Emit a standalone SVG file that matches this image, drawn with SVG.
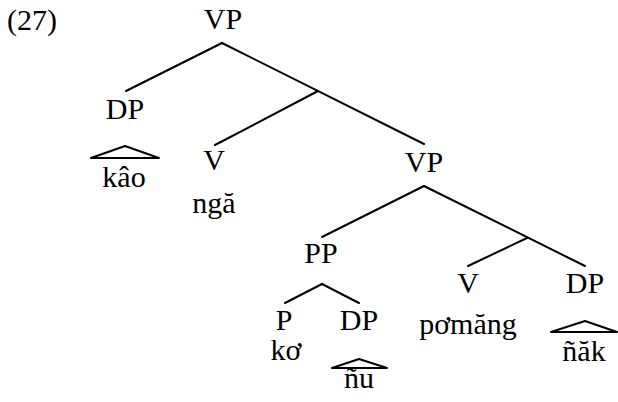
<svg xmlns="http://www.w3.org/2000/svg" width="618" height="402" viewBox="0 0 618 402">
<style>
.e{stroke:#000;stroke-width:2;fill:none;stroke-linecap:round;stroke-linejoin:round}
text{font-family:"Liberation Serif","Times New Roman","DejaVu Serif",serif;font-size:30px;fill:#000;text-anchor:middle}
</style>
<rect width="618" height="402" fill="#fff"/>
<text x="7" y="30" style="text-anchor:start">(27)</text>
<g id="connectors" class="e">
<line x1="222" y1="43" x2="126" y2="91"/>
<line x1="222" y1="43" x2="424" y2="144"/>
<line x1="318" y1="91" x2="215" y2="145"/>
<line x1="424" y1="186" x2="322" y2="237"/>
<line x1="424" y1="186" x2="585" y2="266"/>
<line x1="527" y1="238" x2="468" y2="266"/>
<line x1="322" y1="284" x2="285" y2="303"/>
<line x1="322" y1="284" x2="359" y2="303"/>
</g>
<g id="vp1"><text x="223" y="29">VP</text></g>
<g id="dp1"><text x="125" y="119">DP</text><polygon class="e" points="91,158 125,146 159,158"/><text x="124" y="187">kâo</text></g>
<g id="v1"><text x="214" y="170">V</text><text x="214" y="213">ngă</text></g>
<g id="vp2"><text x="424" y="172">VP</text></g>
<g id="pp"><text x="321" y="263">PP</text></g>
<g id="p"><text x="284" y="330">P</text><text x="286" y="360">kơ</text></g>
<g id="dp2"><text x="359" y="330">DP</text><polygon class="e" points="332,368 359,359 387,368"/><text x="359" y="388">ñu</text></g>
<g id="v2"><text x="468" y="293">V</text><text x="468" y="334">pơmăng</text></g>
<g id="dp3"><text x="585" y="293">DP</text><polygon class="e" points="551,332 585,321 617,332"/><text x="584" y="361">ñăk</text></g>
</svg>
